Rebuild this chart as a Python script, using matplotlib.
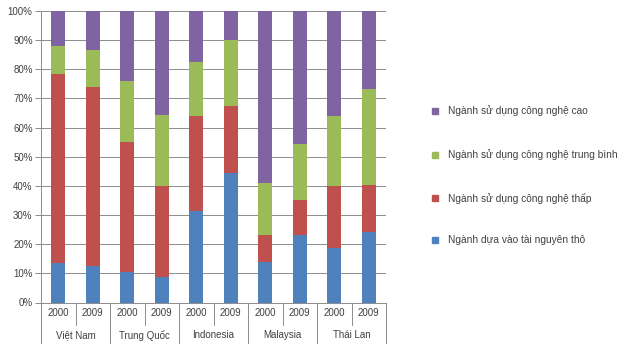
import matplotlib
matplotlib.use("Agg")
import matplotlib.pyplot as plt
from matplotlib.lines import Line2D
import matplotlib.transforms as mtransforms
import numpy as np

countries = ["Việt Nam", "Trung Quốc", "Indonesia", "Malaysia", "Thái Lan"]
years = ["2000", "2009"]

series_labels = [
    "Ngành dựa vào tài nguyên thô",
    "Ngành sử dụng công nghệ thấp",
    "Ngành sử dụng công nghệ trung bình",
    "Ngành sử dụng công nghệ cao",
]
colors = ["#4F81BD", "#C0504D", "#9BBB59", "#8064A2"]

# shares (%) per country/year, order: VN00, VN09, TQ00, TQ09, ID00, ID09, MY00, MY09, TH00, TH09
tai_nguyen = [13.5, 12.6, 10.5, 8.9, 31.4, 44.4, 14.0, 23.1, 18.8, 24.3]
cn_thap = [65.0, 61.3, 44.4, 30.9, 32.7, 23.1, 9.3, 11.9, 21.2, 16.0]
cn_trung_binh = [9.4, 12.8, 21.1, 24.5, 18.3, 22.4, 17.7, 19.5, 24.1, 32.9]
cn_cao = [12.1, 13.3, 24.0, 35.7, 17.6, 10.1, 59.0, 45.5, 35.9, 26.8]

series = [tai_nguyen, cn_thap, cn_trung_binh, cn_cao]

W, H = 627, 344
fig = plt.figure(figsize=(W / 100, H / 100), dpi=100)
plt.rcParams["font.family"] = ["Liberation Sans", "DejaVu Sans"]

ax_l, ax_r, ax_t, ax_b = 41, 386, 11, 302.5
ax = fig.add_axes([ax_l / W, (H - ax_b) / H, (ax_r - ax_l) / W, (ax_b - ax_t) / H])

n = len(tai_nguyen)
x = np.arange(n)
bottom = np.zeros(n)
for vals, col in zip(series, colors):
    ax.bar(x, vals, bottom=bottom, width=0.41, color=col, zorder=3, linewidth=0)
    bottom += np.array(vals)

ax.set_xlim(-0.5, n - 0.5)
ax.set_ylim(0, 100)
ax.set_yticks(np.arange(0, 101, 10))
ax.set_yticklabels([f"{v}%" for v in range(0, 101, 10)], fontsize=7, color="#404040")
ax.yaxis.grid(True, color="#8C8C8C", linewidth=0.7, zorder=0)
ax.tick_params(axis="y", length=4, width=0.7, color="#8C8C8C", pad=2)
ax.set_xticks([])
for s in ["top", "right"]:
    ax.spines[s].set_visible(False)
for s in ["left", "bottom"]:
    ax.spines[s].set_color("#8C8C8C")
    ax.spines[s].set_linewidth(0.7)

# two-level category axis
axh = ax_b - ax_t
trans = mtransforms.blended_transform_factory(ax.transData, ax.transAxes)
y_year = -10 / axh
y_country = -33 / axh
y_year_sep = -22.5 / axh
y_group_sep = -(H - ax_b) / axh
for i in range(n):
    ax.text(i, y_year, years[i % 2], transform=trans, ha="center", va="center",
            fontsize=7, color="#404040")
for g, c in enumerate(countries):
    ax.text(2 * g + 0.5, y_country, c, transform=trans, ha="center", va="center",
            fontsize=7, color="#404040")
for i in range(n + 1):
    xb = i - 0.5
    y_end = y_group_sep if i % 2 == 0 else y_year_sep
    ax.add_line(Line2D([xb, xb], [0, y_end], transform=trans, color="#8C8C8C",
                       linewidth=0.7, clip_on=False))

# legend
leg_y = [240, 198, 155, 111]
for lab, col, yy in zip(series_labels, colors, leg_y):
    fig.add_artist(Line2D([435 / W], [(H - yy) / H], marker="s", markersize=4,
                          color=col, linestyle="none", transform=fig.transFigure))
    fig.text(448 / W, (H - yy) / H, lab, fontsize=7.3, color="#404040",
             ha="left", va="center")

fig.savefig("out.png", dpi=100)
